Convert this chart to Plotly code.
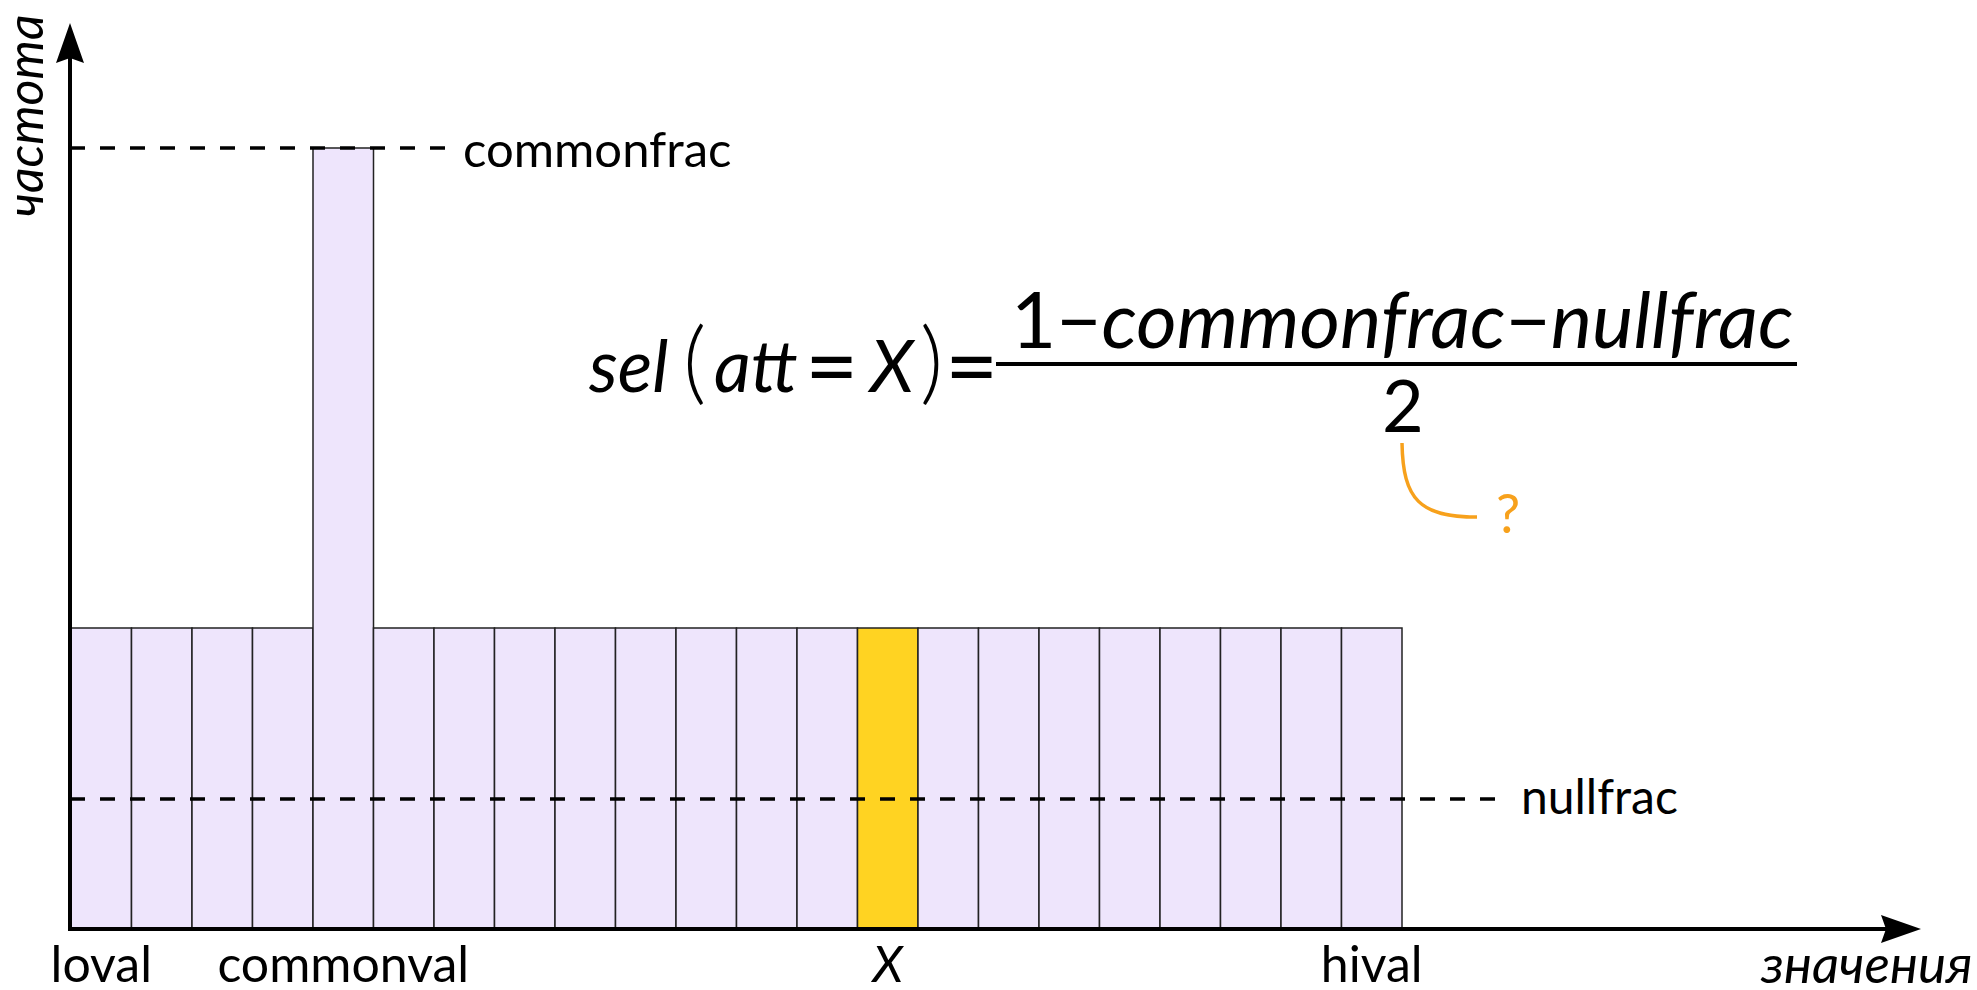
import plotly.graph_objects as go

# ---------------- data ----------------
bins = [0, 1, 2, 3, 4, 5, 6, 7, 8, 9, 10, 11, 12, 13, 14, 15, 16, 17, 18, 19, 20, 21]
freq = [1.0, 1.0, 1.0, 1.0, 2.6, 1.0, 1.0, 1.0, 1.0, 1.0, 1.0,
        1.0, 1.0, 1.0, 1.0, 1.0, 1.0, 1.0, 1.0, 1.0, 1.0, 1.0]
highlight_bin = 13
commonfrac = 2.6
nullfrac = 0.43
tick_bins = [0, 4, 13, 21]
tick_text = ["loval", "commonval", "<i>X</i>", "hival"]

# ---------------- geometry helpers (pixel <-> data) ----------------
W, H = 1977, 990
X0, BW = 71.0, 60.5      # pixel of bin 0 left edge, pixels per bin
Y0, UNIT = 928.0, 300.0  # baseline pixel, pixels per frequency unit


def dx(px):
    return (px - X0) / BW


def dy(py):
    return (Y0 - py) / UNIT


FONT = "Lato"
LAV = "#EEE5FC"
YEL = "#FFD322"
ORANGE = "#F7A11C"

colors = [YEL if b == highlight_bin else LAV for b in bins]

fig = go.Figure()
fig.add_trace(go.Bar(
    x=[b + 0.5 for b in bins], y=freq, width=1.0,
    marker=dict(color=colors, line=dict(color="#222222", width=1.5)),
    hoverinfo="skip", showlegend=False,
))

shapes = []
# dashed reference lines
shapes.append(dict(type="line", xref="x", yref="y", x0=dx(70), x1=dx(449),
                   y0=commonfrac, y1=commonfrac, layer="above",
                   line=dict(color="black", width=3.5, dash="15px,15px")))
shapes.append(dict(type="line", xref="x", yref="y", x0=dx(70), x1=dx(1508),
                   y0=nullfrac, y1=nullfrac, layer="above",
                   line=dict(color="black", width=3.5, dash="15px,15px")))
# axes with arrows
shapes.append(dict(type="line", xref="x", yref="y", x0=dx(70), x1=dx(70),
                   y0=dy(930), y1=dy(58), layer="above",
                   line=dict(color="black", width=4)))
shapes.append(dict(type="line", xref="x", yref="y", x0=dx(68), x1=dx(1886),
                   y0=dy(929), y1=dy(929), layer="above",
                   line=dict(color="black", width=4)))


def tri(pts):
    s = "M %f,%f " % (dx(pts[0][0]), dy(pts[0][1]))
    for p in pts[1:]:
        s += "L %f,%f " % (dx(p[0]), dy(p[1]))
    return s + "Z"


shapes.append(dict(type="path", xref="x", yref="y", layer="above",
                   path=tri([(70, 23), (84, 63), (70, 58), (56, 63)]),
                   fillcolor="black", line=dict(width=0)))
shapes.append(dict(type="path", xref="x", yref="y", layer="above",
                   path=tri([(1921, 929), (1881, 943), (1886, 929), (1881, 915)]),
                   fillcolor="black", line=dict(width=0)))
# fraction bar
shapes.append(dict(type="line", xref="x", yref="y", x0=dx(996), x1=dx(1797),
                   y0=dy(364), y1=dy(364), layer="above",
                   line=dict(color="black", width=4)))
# orange pointer curve
shapes.append(dict(type="path", xref="x", yref="y", layer="above",
                   path="M %f,%f C %f,%f %f,%f %f,%f" % (
                       dx(1402), dy(443), dx(1403), dy(500), dx(1420), dy(517), dx(1477), dy(517)),
                   line=dict(color=ORANGE, width=3.5)))


def ann(text, px, py, size, xanchor="center", italic=False, color="black",
        angle=0, weight=None):
    f = dict(family=FONT, size=size, color=color)
    if italic:
        f["style"] = "italic"
    if weight:
        f["weight"] = weight
    return dict(text=text, x=dx(px), y=dy(py), xref="x", yref="y",
                xanchor=xanchor, yanchor="middle", showarrow=False,
                font=f, textangle=angle)


annotations = [
    ann("commonfrac", 461, 148, 49, xanchor="left"),
    ann("nullfrac", 1519, 795, 48, xanchor="left"),
    ann("значения", 1866, 962, 53, italic=True),
    ann("частота", 24, 116, 50, italic=True, angle=-90),
    # formula
    ann("sel", 586, 364, 72, xanchor="left", italic=True),
    ann("(", 694, 358, 90, weight=300),
    ann("att", 712, 364, 72, xanchor="left", italic=True),
    ann("=", 831, 362, 92),
    ann("X", 865, 364, 72, xanchor="left", italic=True),
    ann(")", 931, 358, 90, weight=300),
    ann("=", 971, 362, 92),
    ann("1−<i>commonfrac</i>−<i>nullfrac</i>", 1402, 318, 78),
    ann("2", 1403, 404, 72),
    ann("?", 1508, 512, 54, color=ORANGE),
]

fig.update_layout(
    width=W, height=H, margin=dict(l=0, r=0, t=0, b=0, autoexpand=False),
    plot_bgcolor="white", paper_bgcolor="white",
    shapes=shapes, annotations=annotations, showlegend=False,
)
fig.update_xaxes(
    range=[dx(0), dx(W)], tickvals=[b + 0.5 for b in tick_bins], ticktext=tick_text,
    showgrid=False, zeroline=False, showline=False, ticks="", automargin=False,
    anchor="free", position=(H - Y0) / H,
    tickfont=dict(family=FONT, size=50, color="black"), ticklabelstandoff=3,
)
fig.update_yaxes(range=[dy(H), dy(0)], visible=False, automargin=False)

fig.write_html(
    "out.html",
    config={"displayModeBar": False, "responsive": False, "staticPlot": True},
    post_script="document.body.style.margin='0';",
)
